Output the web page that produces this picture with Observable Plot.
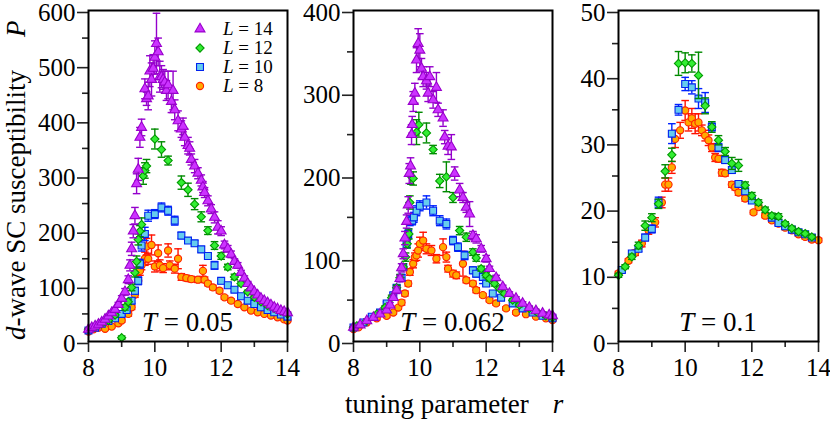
<!DOCTYPE html>
<html><head><meta charset="utf-8">
<script src="https://cdn.jsdelivr.net/npm/d3@7"></script>
<script src="https://cdn.jsdelivr.net/npm/@observablehq/plot@0.6"></script>
<style>
html,body{margin:0;padding:0;background:#fff;}
#chart{position:relative;width:830px;height:421px;overflow:hidden;}
#chart > svg{position:absolute;top:0;}
</style></head>
<body><div id="chart"></div>
<script>
// ---------- tick labels ----------
const xTicks = [8, 10, 12, 14];
const xMinor = [9, 11, 13];
const yTicks005 = [0, 100, 200, 300, 400, 500, 600];
const yMinor005 = [50, 150, 250, 350, 450, 550];
const yTicks0062 = [0, 100, 200, 300, 400];
const yMinor0062 = [50, 150, 250, 350];
const yTicks01 = [0, 10, 20, 30, 40, 50];
const yMinor01 = [5, 15, 25, 35, 45];
const sizes = ["L14", "L12", "L10", "L8"];
const sizeLabels = ["14", "12", "10", "8"];
const temps = ["0.05", "0.062", "0.1"];

// ---------- data: [r, P, error] ----------
const T005_L14 = [[8.0,22,2],[8.1,25,2],[8.2,28,2],[8.3,31,3],[8.4,35,3],[8.5,40,3],[8.6,46,3],[8.7,52,4],[8.8,58,4],[8.9,67,4],[9.0,78,5],[9.1,90,6],[9.2,112,7],[9.25,138,10],[9.3,168,12],[9.35,200,12],[9.4,228,15],[9.45,286,18],[9.5,312,20],[9.55,370,18],[9.6,388,15],[9.7,458,18],[9.75,440,12],[9.8,445,25],[9.85,490,28],[9.9,475,30],[9.95,495,25],[10.0,515,30],[10.05,540,55],[10.1,525,25],[10.15,480,28],[10.2,480,20],[10.25,475,18],[10.3,470,20],[10.35,455,18],[10.4,465,25],[10.5,435,20],[10.55,455,35],[10.6,420,18],[10.7,400,18],[10.8,385,15],[10.85,390,15],[10.9,370,15],[11.0,355,15],[11.05,350,12],[11.1,330,10],[11.2,318,12],[11.3,305,10],[11.4,292,10],[11.45,280,10],[11.5,270,9],[11.6,255,9],[11.7,240,8],[11.8,225,10],[11.9,207,12],[12.0,200,8],[12.1,175,7],[12.2,168,6],[12.3,158,6],[12.4,145,5],[12.5,138,5],[12.6,125,4],[12.7,115,4],[12.8,105,4],[12.9,97,3],[13.0,90,3],[13.1,84,3],[13.2,78,3],[13.3,74,2],[13.4,70,2],[13.5,66,2],[13.6,62,2],[13.7,59,2],[13.8,56,2],[13.9,54,2],[14.0,52,2]];
const T005_L12 = [[8.0,22,2],[8.2,26,2],[8.4,32,3],[8.6,38,3],[8.8,48,4],[9.0,7,3],[9.1,62,5],[9.2,72,5],[9.3,98,6],[9.4,125,8],[9.45,145,10],[9.5,185,10],[9.55,200,10],[9.6,212,12],[9.65,300,15],[9.7,310,14],[9.75,318,12],[10.0,367,18],[10.2,348,14],[10.4,328,8],[10.8,288,12],[11.0,275,12],[11.2,249,10],[11.4,226,9],[11.6,201,7],[11.8,174,7],[12.0,155,6],[12.2,135,5],[12.4,117,5],[12.6,105,4],[12.8,90,3],[13.0,80,3],[13.2,72,2],[13.4,65,2],[13.6,60,2],[13.8,55,2],[14.0,50,2]];
const T005_L10 = [[8.0,20,2],[8.2,25,2],[8.4,32,2],[8.6,37,2],[8.8,42,3],[9.0,50,3],[9.15,57,4],[9.3,74,5],[9.4,92,6],[9.5,110,7],[9.55,141,8],[9.6,174,10],[9.7,195,12],[9.8,228,10],[10.0,231,8],[10.2,243,8],[10.4,237,8],[10.6,219,8],[10.8,192,6],[11.0,183,5],[11.2,178,5],[11.4,167,5],[11.6,155,5],[11.8,138,7],[12.0,110,5],[12.2,102,4],[12.4,94,4],[12.6,82,3],[12.8,74,3],[13.0,68,2],[13.2,62,2],[13.4,57,2],[13.6,53,2],[13.8,49,2],[14.0,45,2]];
const T005_L8 = [[8.0,18,2],[8.15,22,2],[8.3,25,2],[8.5,23,2],[8.7,27,2],[8.9,33,3],[9.0,38,3],[9.2,50,4],[9.3,62,4],[9.4,85,5],[9.5,110,6],[9.55,128,8],[9.6,138,8],[9.7,150,12],[9.75,172,15],[9.8,150,10],[9.9,175,18],[10.0,136,10],[10.1,160,15],[10.15,138,10],[10.25,133,8],[10.4,165,12],[10.45,138,8],[10.6,132,8],[10.7,150,18],[10.8,117,6],[10.95,115,5],[11.1,113,5],[11.3,112,5],[11.45,128,10],[11.5,112,5],[11.6,105,4],[11.75,98,4],[11.95,92,4],[12.1,80,3],[12.3,74,3],[12.5,68,3],[12.7,62,2],[12.9,56,2],[13.1,53,2],[13.3,50,2],[13.5,47,2],[13.7,44,2],[13.9,40,2],[14.0,38,2]];

const T0062_L14 = [[8.0,17,1],[8.2,20,1],[8.4,25,2],[8.6,29,2],[8.8,33,2],[9.0,38,2],[9.1,44,3],[9.2,53,3],[9.3,62,4],[9.4,76,4],[9.45,89,5],[9.5,106,6],[9.55,125,8],[9.6,145,8],[9.65,165,10],[9.68,203,12],[9.72,212,10],[9.75,250,12],[9.77,262,10],[9.8,290,12],[9.85,300,12],[9.9,340,15],[9.95,360,18],[10.0,352,20],[10.05,330,12],[10.1,320,12],[10.2,315,10],[10.25,300,10],[10.3,320,12],[10.4,292,10],[10.5,307,18],[10.55,280,8],[10.7,270,10],[10.75,247,8],[10.85,236,10],[10.95,235,15],[11.05,203,8],[11.2,183,8],[11.3,174,6],[11.4,162,6],[11.5,154,15],[11.6,128,5],[11.7,124,5],[11.85,112,4],[12.0,100,4],[12.1,88,3],[12.3,77,3],[12.5,66,2],[12.7,58,2],[12.9,52,2],[13.1,46,2],[13.3,41,2],[13.5,37,2],[13.7,34,2],[13.9,32,2],[14.0,31,2]];
const T0062_L12 = [[8.0,17,1],[8.1,19,1],[8.4,25,2],[8.7,33,2],[8.95,41,2],[9.15,53,3],[9.3,65,3],[9.4,77,4],[9.5,90,4],[9.57,102,5],[9.62,118,5],[9.67,130,6],[9.7,168,8],[9.73,200,10],[9.8,197,8],[9.9,253,15],[9.97,262,15],[10.2,252,12],[10.4,232,5],[10.6,194,8],[10.8,199,18],[11.0,174,6],[11.2,134,5],[11.4,126,5],[11.6,108,4],[11.7,101,4],[11.85,88,3],[12.0,80,3],[12.1,76,3],[12.25,70,3],[12.4,64,2],[12.55,58,2],[12.8,50,2],[13.0,44,2],[13.3,40,2],[13.55,35,2],[13.8,31,2],[14.0,29,2]];
const T0062_L10 = [[8.0,17,1],[8.3,23,1],[8.55,30,2],[8.8,35,2],[9.0,46,2],[9.2,56,3],[9.3,65,3],[9.45,77,4],[9.5,90,4],[9.6,118,5],[9.65,130,6],[9.7,146,6],[9.77,146,5],[9.82,150,6],[9.9,158,6],[10.0,164,6],[10.2,168,8],[10.4,158,6],[10.6,146,6],[10.8,142,6],[11.0,122,5],[11.15,114,5],[11.35,104,5],[11.6,86,4],[11.7,82,4],[11.9,78,8],[12.0,70,3],[12.2,58,3],[12.45,53,2],[12.8,46,2],[13.1,40,2],[13.4,35,2],[13.7,31,2],[14.0,28,2]];
const T0062_L8 = [[8.0,15,1],[8.15,17,1],[8.4,23,1],[8.7,28,2],[9.0,31,2],[9.2,35,2],[9.35,41,2],[9.45,47,3],[9.55,58,3],[9.65,70,3],[9.7,84,4],[9.8,94,5],[9.85,102,5],[9.9,104,6],[9.95,110,8],[10.0,118,8],[10.1,122,10],[10.2,112,6],[10.35,110,6],[10.5,100,5],[10.7,114,10],[10.8,102,6],[10.85,88,4],[11.0,82,4],[11.1,80,4],[11.3,94,15],[11.4,74,3],[11.6,70,3],[11.7,62,3],[11.9,56,2],[12.1,50,2],[12.3,46,2],[12.6,40,2],[12.9,35,2],[13.2,33,1],[13.5,30,1],[13.8,28,1],[14.0,26,1]];

const T01_L12 = [[8.0,10.0,0.3],[8.2,11.3,0.3],[8.4,12.8,0.4],[8.6,14.5,0.5],[8.8,17.5,0.7],[9.0,18.7,0.6],[9.2,20.8,0.7],[9.4,25.7,1.0],[9.6,28.2,1.0],[9.8,42.0,1.8],[10.0,42.1,1.5],[10.2,42.0,1.3],[10.4,40.2,3.5],[10.6,35.6,1.2],[10.8,32.4,0.8],[11.0,30.4,0.7],[11.2,28.7,0.6],[11.4,26.9,0.9],[11.6,26.6,0.9],[11.8,23.6,0.5],[12.0,22.0,0.5],[12.2,21.0,0.4],[12.4,19.9,0.4],[12.6,19.0,0.4],[12.8,18.9,0.4],[13.0,17.8,0.3],[13.2,17.1,0.3],[13.4,16.6,0.3],[13.6,16.3,0.3],[13.8,15.8,0.3]];
const T01_L10 = [[8.1,10.8,0.3],[8.4,13.3,0.4],[8.6,14.0,0.4],[8.8,15.7,0.5],[9.0,17.0,0.6],[9.2,21.0,0.8],[9.6,31.4,1.5],[9.8,35.0,0.8],[10.0,38.9,1.0],[10.2,38.4,1.0],[10.4,36.7,1.5],[10.6,36.1,1.5],[10.8,32.4,0.6],[11.0,29.3,0.6],[11.2,27.4,0.5],[11.4,25.9,0.5],[11.6,23.8,0.4],[11.8,22.7,0.4],[12.0,21.3,0.4],[12.6,18.7,0.3],[12.8,17.9,0.3],[13.0,17.4,0.3],[13.2,16.9,0.3],[13.4,16.5,0.3],[13.6,16.2,0.3],[13.8,15.7,0.3]];
const T01_L8 = [[8.0,10.3,0.3],[8.1,10.8,0.3],[8.3,12.2,0.3],[8.5,13.4,0.4],[8.7,14.8,0.5],[8.9,16.8,0.6],[9.1,18.0,0.7],[9.3,21.0,0.8],[9.4,23.7,1.0],[9.5,23.7,1.0],[9.6,26.3,0.9],[9.7,30.6,1.3],[9.85,31.9,1.2],[10.0,34.9,1.5],[10.1,33.1,1.3],[10.2,33.7,1.5],[10.3,32.9,1.5],[10.4,33.1,1.3],[10.5,31.9,0.8],[10.6,31.1,0.8],[10.7,30.4,0.8],[10.8,29.3,0.6],[10.9,27.8,0.6],[11.0,27.6,0.5],[11.1,25.5,0.5],[11.2,25.4,0.4],[11.4,23.7,0.4],[11.5,23.3,0.4],[11.6,22.5,0.4],[11.8,21.6,0.4],[12.05,19.5,0.3],[12.2,20.3,0.3],[12.4,19.0,0.3],[12.6,18.3,0.3],[12.8,17.8,0.3],[13.0,17.2,0.3],[13.2,16.8,0.3],[13.4,16.2,0.3],[13.6,15.8,0.3],[13.8,15.4,0.3],[14.0,15.3,0.3]];

// ---------- styling ----------
const FAMILY = "Liberation Serif";
const look = {
  L14: {symbol: "triangle", r: 3.7, fill: "#cc33ff", stroke: "#9900cc", bar: "#9400cc"},
  L12: {symbol: "diamond2", r: 3.7, fill: "#33ee33", stroke: "#009900", bar: "#008a00"},
  L10: {symbol: "square", r: 3.9, fill: "#66ccee", stroke: "#0022ee", bar: "#0022ff"},
  L8:  {symbol: "circle", r: 3.6, fill: "#ffaa00", stroke: "#ff2200", bar: "#ff1100"}
};
const d3sym = {triangle: d3.symbolTriangle, diamond2: d3.symbolDiamond2, square: d3.symbolSquare, circle: d3.symbolCircle};
const cap = {draw(ctx, size) { const w = Math.sqrt(size / Math.PI); ctx.moveTo(-w, 0); ctx.lineTo(w, 0); }};

const panels = [
  {T: temps[0], left: 88, width: 199, yMax: 600, yTicks: yTicks005, yMinor: yMinor005, series: {L8: T005_L8, L10: T005_L10, L12: T005_L12, L14: T005_L14}},
  {T: temps[1], left: 353, width: 199, yMax: 400, yTicks: yTicks0062, yMinor: yMinor0062, series: {L8: T0062_L8, L10: T0062_L10, L12: T0062_L12, L14: T0062_L14}},
  {T: temps[2], left: 618, width: 200, yMax: 50, yTicks: yTicks01, yMinor: yMinor01, series: {L8: T01_L8, L10: T01_L10, L12: T01_L12}}
];

const chart = document.getElementById("chart");
const ML = 60, MR = 12, MT = 10, MB = 80, H = 421;
const tickColor = "#222";
const TICKFONT = 25;

panels.forEach((p) => {
  const marks = [];
  for (const key of ["L8", "L10", "L12", "L14"]) {
    const rows = p.series[key];
    if (!rows) continue;
    const data = rows.map(([r, P, e]) => ({r, P, lo: P - e, hi: P + e}));
    const s = look[key];
    marks.push(
      Plot.ruleX(data, {x: "r", y1: "lo", y2: "hi", stroke: s.bar, strokeWidth: 1.4}),
      Plot.dot(data, {x: "r", y: "hi", symbol: cap, r: 3.8, stroke: s.bar, fill: "none", strokeWidth: 1.4}),
      Plot.dot(data, {x: "r", y: "lo", symbol: cap, r: 3.8, stroke: s.bar, fill: "none", strokeWidth: 1.4}),
      Plot.dot(data, {x: "r", y: "P", symbol: s.symbol, r: s.r, fill: s.fill, stroke: s.stroke, strokeWidth: 1.1})
    );
  }
  const svg = Plot.plot({
    width: ML + p.width + MR,
    height: H,
    marginLeft: ML, marginRight: MR, marginTop: MT, marginBottom: MB,
    x: {domain: [8, 14]},
    y: {domain: [0, p.yMax]},
    style: {fontSize: TICKFONT + "px", color: "black", background: "none", overflow: "visible"},
    marks: [
      ...marks,
      Plot.axisX(xTicks, {tickSize: 11, tickPadding: 6, fontSize: TICKFONT, stroke: tickColor, strokeWidth: 1.6, fill: "black", label: null}),
      Plot.axisX(xMinor, {tickSize: 6, stroke: tickColor, strokeWidth: 1.6, fill: "none", label: null}),
      Plot.axisY(p.yTicks, {tickSize: 11, tickPadding: 2, dy: 2, fontSize: TICKFONT, stroke: tickColor, strokeWidth: 1.6, fill: "black", label: null}),
      Plot.axisY(p.yMinor, {tickSize: 6, stroke: tickColor, strokeWidth: 1.6, fill: "none", label: null}),
      Plot.frame({stroke: "black", strokeWidth: 2})
    ]
  });
  svg.style.position = "absolute";
  svg.style.left = (p.left - ML) + "px";
  svg.style.top = "0px";
  svg.style.background = "transparent";
  svg.style.overflow = "visible";
  svg.querySelectorAll("text").forEach(t => t.setAttribute("font-family", FAMILY));
  chart.appendChild(svg);
});

// ---------- overlay: titles, panel labels, legend ----------
const ov = d3.select(chart).append("svg")
  .attr("width", 830).attr("height", 421)
  .style("position", "absolute").style("left", "0px").style("top", "0px")
  .style("pointer-events", "none");

const yt = ov.append("text").attr("transform", "translate(25,340) rotate(-90)").attr("font-size", 27).attr("fill", "black").attr("font-family", FAMILY);
yt.append("tspan").attr("font-style", "italic").text("d");
yt.append("tspan").text("-wave SC susceptibility");
yt.append("tspan").attr("dx", 33).attr("font-style", "italic").text("P");

const xt = ov.append("text").attr("x", 345).attr("y", 413).attr("font-size", 27).attr("fill", "black").attr("font-family", FAMILY);
xt.append("tspan").text("tuning parameter");
xt.append("tspan").attr("dx", 24).attr("font-style", "italic").text("r");

panels.forEach((p) => {
  const t = ov.append("text").attr("x", p.left + p.width / 2).attr("y", 331)
    .attr("text-anchor", "middle").attr("font-size", 27).attr("fill", "black").attr("font-family", FAMILY);
  t.append("tspan").attr("font-style", "italic").text("T");
  t.append("tspan").text(" = " + p.T);
});

sizes.forEach((k, i) => {
  const s = look[k];
  ov.append("path")
    .attr("transform", `translate(200,${29 + 19 * i})`)
    .attr("d", d3.symbol(d3sym[s.symbol], Math.PI * s.r * s.r)())
    .attr("fill", s.fill).attr("stroke", s.stroke).attr("stroke-width", 1.1);
  const t = ov.append("text").attr("x", 223).attr("y", 35 + 19 * i).attr("font-size", 19).attr("fill", "black").attr("font-family", FAMILY);
  t.append("tspan").attr("font-style", "italic").text("L");
  t.append("tspan").text(" = " + sizeLabels[i]);
});
</script>
</body></html>
